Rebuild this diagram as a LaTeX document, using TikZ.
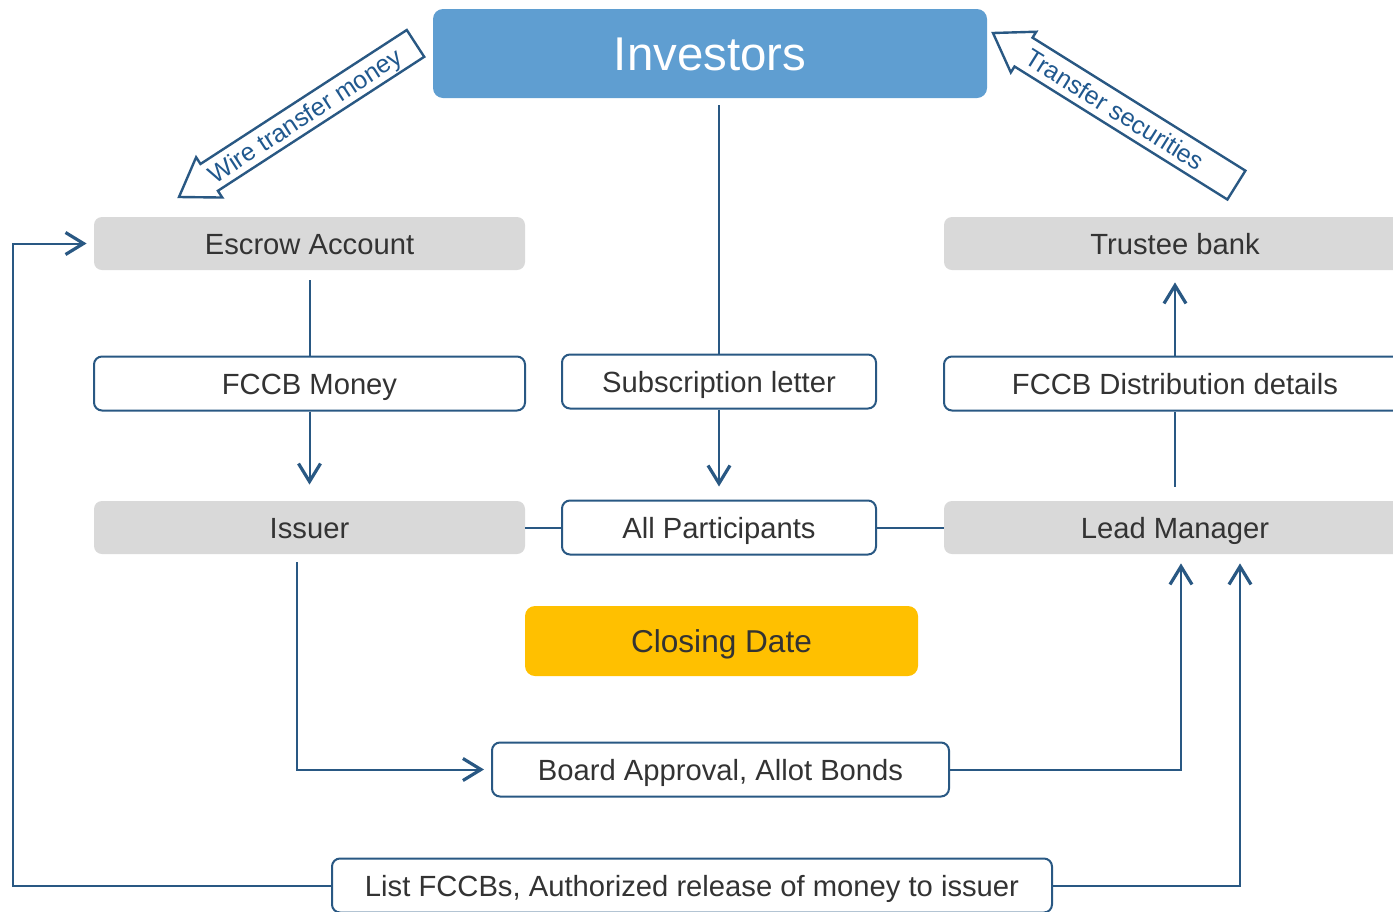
\documentclass[tikz,border=0pt]{standalone}
\usepackage{fontspec}
\setmainfont{Liberation Sans}
\usetikzlibrary{arrows.meta,positioning}

\definecolor{invblue}{RGB}{95,158,209}
\definecolor{boxgray}{RGB}{217,217,217}
\definecolor{closeyellow}{RGB}{255,192,0}
\definecolor{lineblue}{RGB}{41,88,131}
\definecolor{textgray}{RGB}{51,51,51}
\definecolor{tagblue}{RGB}{32,88,142}

\begin{document}
\begin{tikzpicture}[x=0.5pt, y=-0.5pt, every node/.style={font=\fontsize{14.6}{17}\selectfont, text=textgray, text height=10.5pt, text depth=0pt},
			gbox/.style={fill=boxgray, rounded corners=4pt, minimum height=26.5pt},
			wbox/.style={draw=lineblue, line width=1pt, fill=white, rounded corners=4pt, minimum height=27pt},
			tag/.style={draw=lineblue, line width=1.2pt, fill=white, line join=miter},
			tagtext/.style={text=tagblue, font=\fontsize{12.5}{15}\selectfont, text height=9pt, inner sep=0pt},
			flow/.style={draw=lineblue, line width=1pt},
			arr/.style={flow, -{Straight Barb[length=9pt, width=11pt, line width=1.6pt]}}]
			\path[use as bounding box, clip] (0,0) rectangle (1393,911);
			\node[fill=invblue, rounded corners=5pt, minimum width=277pt, minimum height=44.5pt, text=white,
				font=\fontsize{23.7}{28}\selectfont, text height=17pt] (investors) at (710,53.5) {Investors};
			% hollow block arrows, drawn from the tip back to the tail
			\begin{scope}[shift={(179,197)}, rotate=33]
				\path[tag] (0,0) -- (36,-24) -- (36,-16) -- (282,-16) -- (282,16) -- (36,16) -- (36,24) -- cycle;
				\node[tagtext, rotate=33] (wire) at (150,0) {Wire transfer money};
			\end{scope}
			\begin{scope}[shift={(993,33)}, rotate=-32]
				\path[tag] (0,0) -- (36,-24) -- (36,-17) -- (287,-17) -- (287,17) -- (36,17) -- (36,24) -- cycle;
				\node[tagtext, rotate=-32] (transfer) at (144,0) {Transfer securities};
			\end{scope}
			\node[gbox, minimum width=215.5pt] (escrow) at (309.5,243.5) {Escrow Account};
			\node[gbox, minimum width=231pt] (trustee) at (1175,243.5) {Trustee bank};
			\node[wbox, minimum width=215.5pt] (fccbmoney) at (309.5,383.5) {FCCB Money};
			\node[wbox, minimum width=157pt] (subletter) at (719,381.5) {Subscription letter};
			\node[wbox, minimum width=231pt] (distdetails) at (1175,383.5) {FCCB Distribution details};
			\node[gbox, minimum width=215.5pt] (issuer) at (309.5,527.5) {Issuer};
			\node[wbox, minimum width=157pt] (allpart) at (719,527.5) {All Participants};
			\node[gbox, minimum width=231pt] (leadmgr) at (1175,527.5) {Lead Manager};
			\node[fill=closeyellow, rounded corners=5pt, minimum width=196.5pt, minimum height=35pt,
				font=\fontsize{15.8}{19}\selectfont, text height=11.3pt] (closing) at (721.5,641) {Closing Date};
			\node[wbox, minimum width=228.5pt] (board) at (720.5,769.5) {Board Approval, Allot Bonds};
			\node[wbox, minimum width=360pt] (listfccb) at (692,885.5) {List FCCBs, Authorized release of money to issuer};
			\draw[flow, shorten <=3.5pt] (investors.south -| subletter.north) -- (subletter.north);
			\draw[flow, shorten <=5pt] (escrow.south) -- (fccbmoney.north);
			\draw[arr, shorten >=8pt] (fccbmoney.south) -- (issuer.north);
			\draw[arr, shorten >=6.5pt] (subletter.south) -- (allpart.north);
			\draw[flow] (issuer.east) -- (allpart.west);
			\draw[flow] (allpart.east) -- (leadmgr.west);
			\draw[flow, shorten <=7pt] (leadmgr.north) -- (distdetails.south);
			\draw[arr, shorten >=6pt] (distdetails.north) -- (trustee.south);
			\draw[arr, shorten <=4pt, shorten >=3.5pt] ([xshift=-6.5pt]issuer.south) |- (board.west);
			\draw[arr, shorten >=4.5pt] (board.east) -| ([xshift=3pt]leadmgr.south);
			\draw[arr, shorten >=4.5pt] (listfccb.east) -| ([xshift=32.5pt]leadmgr.south);
			\draw[arr, shorten >=3.5pt] (listfccb.west) -- ++(-318,0) |- (escrow.west);
		\end{tikzpicture}
\end{document}
